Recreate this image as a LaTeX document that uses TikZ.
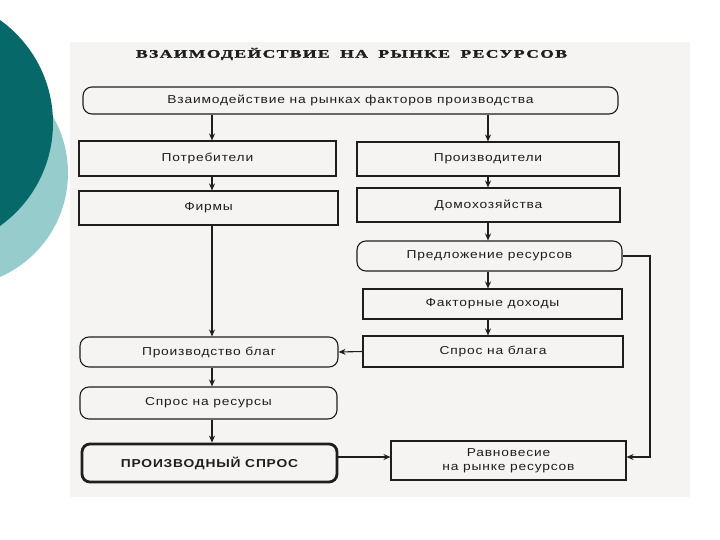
\documentclass[tikz,border=0pt]{standalone}
\usepackage{fontspec}
\setmainfont{Liberation Sans}[FakeStretch=1.2,LetterSpace=7]
\newfontfamily\titlefont{Liberation Serif}[LetterSpace=8,FakeBold=1.5]
\usetikzlibrary{arrows.meta}
\definecolor{tealdark}{RGB}{6,104,104}
\definecolor{teallight}{RGB}{150,204,204}
\definecolor{scanbg}{RGB}{246,243,243}
\definecolor{ink}{RGB}{30,30,30}
\tikzset{
  box/.style={draw=ink, line width=1.1pt, text=ink, inner sep=0pt,
    font=\fontsize{11.5}{14}\selectfont, align=center},
  rbox/.style={box, rounded corners=9pt},
  thickbox/.style={box, rounded corners=8pt, line width=2.8pt,
    font=\bfseries\fontsize{11.5}{14}\selectfont},
  arr/.style={draw=ink, line width=1.1pt, -{Stealth[length=7pt,width=6pt]}},
  link/.style={draw=ink, line width=1.1pt}
}
\begin{document}
\begin{tikzpicture}[x=1pt,y=-1pt]
\useasboundingbox (0,0) rectangle (720,540);
% slide decoration
\fill[teallight] (-45.5,173) circle (113.5);
\fill[tealdark] (-73.5,123) circle (126.5);
% scanned page
\fill[scanbg] (70,42) rectangle (690,497);
% title
\node[text=ink] (title) at (351.5,54) {\resizebox{431pt}{\height}{\titlefont\bfseries\fontsize{11.5}{13}\selectfont ВЗАИМОДЕЙСТВИЕ\hspace{0.6em}НА\hspace{0.6em}РЫНКЕ\hspace{0.6em}РЕСУРСОВ}};
% nodes
\node[rbox, minimum width=535pt, minimum height=27pt] (top) at (350.5,100.5) {Взаимодействие на рынках факторов производства};
\node[box, minimum width=257pt, minimum height=35pt] (potr) at (207.5,158.5) {Потребители};
\node[box, minimum width=259pt, minimum height=34pt] (firm) at (208.5,208) {Фирмы};
\node[box, minimum width=262pt, minimum height=34pt] (proizv) at (488,159) {Производители};
\node[box, minimum width=263pt, minimum height=34pt] (dom) at (488.5,205) {Домохозяйства};
\node[rbox, minimum width=265pt, minimum height=30pt] (pred) at (489.5,256) {Предложение ресурсов};
\node[box, minimum width=259pt, minimum height=30pt] (fakt) at (492.5,304) {Факторные доходы};
\node[box, minimum width=260pt, minimum height=31pt] (sprblag) at (493,351.5) {Спрос на блага};
\node[rbox, minimum width=258pt, minimum height=30pt] (prblag) at (209,352) {Производство благ};
\node[rbox, minimum width=257pt, minimum height=32pt] (sprres) at (208.5,403) {Спрос на ресурсы};
\node[thickbox, minimum width=255pt, minimum height=38pt] (proizvsp) at (209.5,463) {ПРОИЗВОДНЫЙ СПРОС};
\node[box, minimum width=235pt, minimum height=39pt] (ravn) at (508.5,460.5) {Равновесие\\на рынке ресурсов};
% guide coordinates
\coordinate (xl) at (212,0);
\coordinate (xr) at (488,0);
\coordinate (yc) at (0,457);
\coordinate (corner) at (650,0);
% left column
\draw[arr] (top.south -| xl) -- (potr.north -| xl);
\draw[arr] (potr.south -| xl) -- (firm.north -| xl);
\draw[arr] (firm.south -| xl) -- (prblag.north -| xl);
\draw[arr] (prblag.south -| xl) -- (sprres.north -| xl);
\draw[arr] (sprres.south -| xl) -- (proizvsp.north -| xl);
% right column
\draw[arr] (top.south -| xr) -- (proizv.north -| xr);
\draw[arr] (proizv.south -| xr) -- (dom.north -| xr);
\draw[arr] (dom.south -| xr) -- (pred.north -| xr);
\draw[arr] (pred.south -| xr) -- (fakt.north -| xr);
\draw[arr] (fakt.south -| xr) -- (sprblag.north -| xr);
% cross links
\draw[arr] (sprblag.west) -- (prblag.east);
\draw[arr] (proizvsp.east |- yc) -- (ravn.west |- yc);
\draw[arr] (pred.east) -- (pred.east -| corner) -- (yc -| corner) -- (ravn.east |- yc);
\end{tikzpicture}
\end{document}
